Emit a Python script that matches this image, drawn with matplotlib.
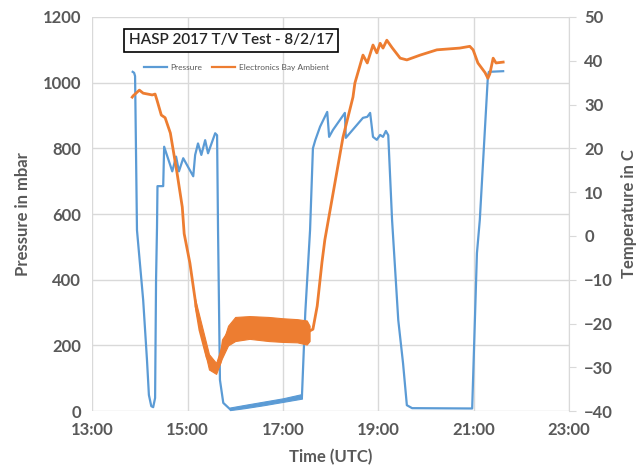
import matplotlib
matplotlib.use("Agg")
import matplotlib.pyplot as plt
from matplotlib.lines import Line2D

plt.rcParams["font.family"] = ["Lato", "DejaVu Sans"]

# Pressure (left axis), time in decimal hours UTC
press_t = [13.85, 13.88, 13.90, 13.94, 14.07, 14.15, 14.19, 14.24, 14.28, 14.32, 14.34,
           14.36, 14.37, 14.49, 14.51, 14.68, 14.76, 14.82, 14.91, 15.12, 15.16, 15.22,
           15.29, 15.37, 15.43, 15.58, 15.62, 15.64, 15.68, 15.75, 15.89]
press_v = [1033, 1030, 1020, 551, 338, 155, 49, 15, 12, 40, 400,
           560, 685, 685, 805, 730, 775, 730, 770, 715, 780, 815,
           780, 825, 785, 846, 840, 551, 95, 25, 6]

# slow leak-up segment is a thick noisy band
band_p_t = [15.89, 16.2, 16.6, 17.0, 17.40]
band_p_lo = [3, 9, 18, 28, 38]
band_p_hi = [11, 19, 29, 39, 52]

press2_t = [17.40, 17.47, 17.57, 17.63, 17.68, 17.78, 17.93, 17.97, 18.05, 18.30, 18.32,
            18.68, 18.77, 18.83, 18.89, 18.97, 19.04, 19.10, 19.16, 19.21, 19.29, 19.42,
            19.52, 19.60, 19.71, 20.97, 21.01, 21.07, 21.13, 21.30, 21.32, 21.62]
press2_v = [46, 300, 551, 800, 825, 866, 911, 835, 856, 908, 832,
            893, 896, 908, 835, 826, 841, 835, 853, 840, 582, 277,
            146, 18, 9, 8, 196, 481, 582, 1020, 1033, 1035]

# Electronics bay ambient temperature (right axis)
temp_t = [13.84, 13.86, 13.99, 14.07, 14.26, 14.32, 14.36, 14.45, 14.53, 14.64, 14.78,
          14.89, 14.93, 15.05, 15.10, 15.20, 15.26, 15.41, 15.52, 15.62, 15.68, 15.75,
          15.89, 16.10]
temp_v = [31.7, 32.0, 33.3, 32.6, 32.2, 32.4, 31.0, 27.6, 27.0, 23.5, 14.4,
          6.6, 0.5, -6.2, -10.0, -17.6, -21.5, -27.7, -30.0, -30.2, -29.0, -23.8,
          -21.5, -20.5]

band_t_t = [15.15, 15.30, 15.45, 15.60, 15.72, 15.85, 16.0, 16.3, 16.7, 17.0, 17.3, 17.5, 17.56]
band_t_lo = [-16, -23.5, -30.5, -31.5, -28, -25, -24, -23.5, -24, -24.2, -24.3, -24.8, -24]
band_t_hi = [-14, -20.5, -27, -29, -25, -20.5, -18.5, -18.3, -18.5, -18.8, -19, -19.3, -20.5]

temp2_t = [17.45, 17.51, 17.63, 17.72, 17.82, 17.88, 18.26, 18.47, 18.51, 18.68, 18.77,
           18.89, 18.97, 19.04, 19.10, 19.18, 19.29, 19.46, 19.60, 19.88, 20.23, 20.71,
           20.92, 20.99, 21.09, 21.24, 21.30, 21.34, 21.41, 21.47, 21.62]
temp2_v = [-21.5, -22.0, -21.3, -16.0, -6.0, -0.9, 22.5, 31.7, 34.9, 41.3, 39.5,
           43.6, 41.8, 44.0, 42.9, 44.7, 43.0, 40.6, 40.2, 41.3, 42.5, 42.9,
           43.3, 42.5, 39.5, 37.3, 36.0, 37.0, 40.6, 39.5, 39.7]

x_ticks = [13, 15, 17, 19, 21, 23]
p_ticks = [0, 200, 400, 600, 800, 1000, 1200]
t_ticks = [-40, -30, -20, -10, 0, 10, 20, 30, 40, 50]

BLUE = "#5B9BD5"
ORANGE = "#ED7D31"
GRAY = "#595959"
GRID = "#D9D9D9"

fig = plt.figure(figsize=(6.4, 4.72), dpi=100)
ax = fig.add_axes([0.144, 0.129, 0.745, 0.835])

ax.plot(press_t, press_v, color=BLUE, lw=1.6, zorder=3)
ax.fill_between(band_p_t, band_p_lo, band_p_hi, color=BLUE, lw=0.8, zorder=3)
ax.plot(press2_t, press2_v, color=BLUE, lw=1.6, zorder=3)

ax.set_xlim(13, 23)
ax.set_ylim(0, 1200)
ax.set_xticks(x_ticks)
ax.set_xticklabels([f"{h}:00" for h in x_ticks])
ax.set_yticks(p_ticks)
ax.grid(True, color=GRID, lw=1)
ax.set_axisbelow(True)
for s in ax.spines.values():
    s.set_visible(False)
ax.tick_params(axis="both", length=0, labelsize=12, labelcolor=GRAY, pad=8)
for lab in ax.get_xticklabels() + ax.get_yticklabels():
    lab.set_fontweight("bold")
ax.set_ylabel("Pressure in mbar", fontsize=12, fontweight="bold", color=GRAY, labelpad=8)
ax.set_xlabel("Time (UTC)", fontsize=12, fontweight="bold", color=GRAY, labelpad=8)

ax2 = ax.twinx()
ax2.plot(temp_t, temp_v, color=ORANGE, lw=2.0, zorder=4)
ax2.fill_between(band_t_t, band_t_lo, band_t_hi, color=ORANGE, lw=0.8, zorder=4)
ax2.plot(temp2_t, temp2_v, color=ORANGE, lw=2.0, zorder=4)
ax2.set_ylim(-40, 50)
ax2.set_yticks(t_ticks)
for s in ax2.spines.values():
    s.set_visible(False)
ax2.spines["right"].set_visible(True)
ax2.spines["right"].set_color(GRID)
ax2.tick_params(axis="y", length=5, color=GRID, labelsize=12, labelcolor=GRAY, pad=6)
for lab in ax2.get_yticklabels():
    lab.set_fontweight("bold")
ax2.set_ylabel("Temperature in C", fontsize=12, fontweight="bold", color=GRAY, labelpad=6)

fig.text(0.361, 0.915, "HASP 2017 T/V Test - 8/2/17", fontsize=11, ha="center", va="center",
         color="#262626", fontweight="semibold",
         bbox=dict(boxstyle="square,pad=0.3", fc="white", ec="black", lw=1.2))

handles = [Line2D([], [], color=BLUE, lw=1.6), Line2D([], [], color=ORANGE, lw=1.6)]
fig.legend(handles, ["Pressure", "Electronics Bay Ambient"], loc="center",
           bbox_to_anchor=(0.369, 0.858), ncol=2, frameon=False, fontsize=6,
           labelcolor=GRAY, handlelength=2.8, handletextpad=0.4, columnspacing=1.2)

fig.savefig("out.png", dpi=100)
